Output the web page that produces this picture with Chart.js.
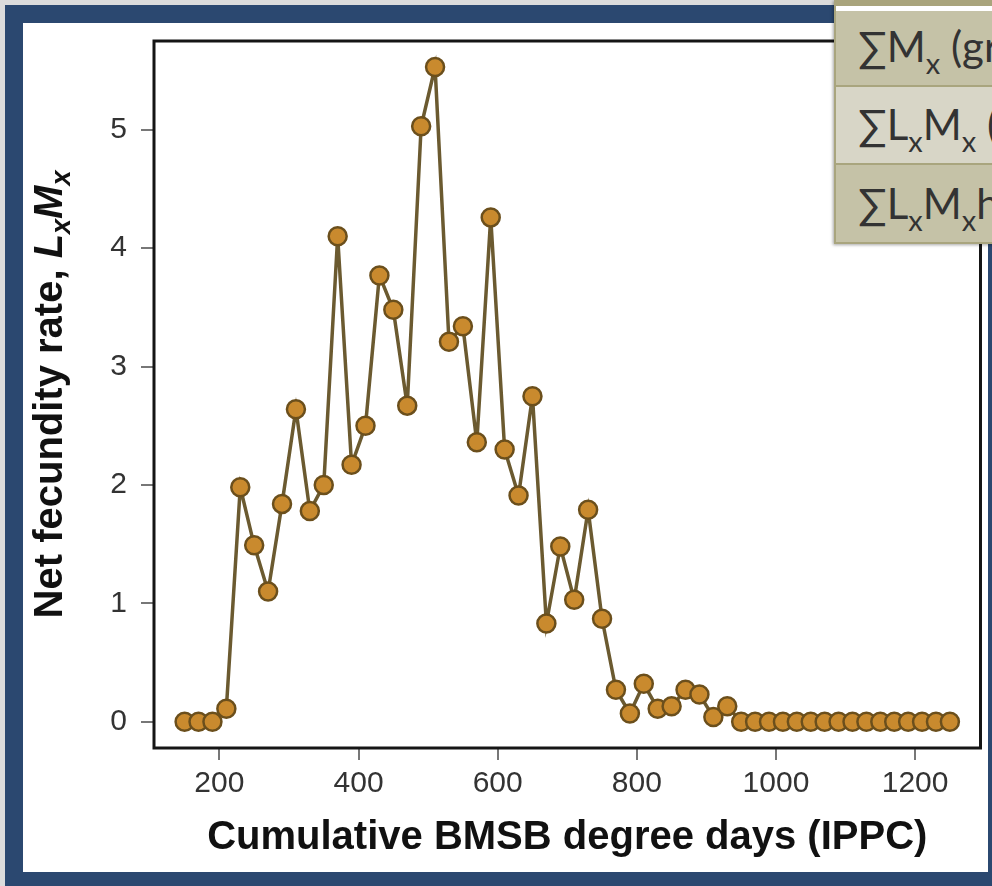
<!DOCTYPE html>
<html>
<head>
<meta charset="utf-8">
<script src="https://cdn.jsdelivr.net/npm/chart.js@4.4.1/dist/chart.umd.min.js"></script>
<style>
  html, body { margin: 0; padding: 0; }
  body { width: 992px; height: 886px; overflow: hidden; position: relative; background: #dcdcdc; }
  #frame { position: absolute; left: 5px; top: 5px; width: 1010px; height: 900px; background: #2b4870; }
  #paper { position: absolute; left: 23px; top: 23px; width: 965px; height: 849px; background: #fff; }
  #plot { position: absolute; left: 0; top: 0; }
  #tbl { position: absolute; left: 834px; top: 0; width: 190px; height: 244px; background: #fff;
         border-left: 2px solid #a9a57e; box-shadow: -1px 1px 3px rgba(0,0,0,0.35); }
  #tbl .band { position: absolute; left: 0; top: 0; width: 100%; height: 6px; background: #a9a47c; }
  #tbl .row { position: absolute; left: 0; width: 100%; background: #c5c2a7;
              border-bottom: 2px solid #a9a57e; font-family: Lato, "Liberation Sans", sans-serif;
              font-size: 42px; color: #333; white-space: nowrap; }
  #tbl .row.light { background: #d8d6c7; }
  #tbl .row span.t { position: absolute; left: 22px; line-height: 42px; }
  #tbl sub { font-size: 29px; vertical-align: -12px; line-height: 0; }
</style>
</head>
<body>
<div id="frame"></div>
<div id="paper"></div>
<canvas id="plot" width="992" height="886"></canvas>
<div id="tbl">
  <div class="band"></div>
  <div class="row" style="top:11px;height:74px"><span class="t" style="top:14px">∑M<sub>x</sub> (gr</span></div>
  <div class="row light" style="top:87px;height:76px"><span class="t" style="top:16px">∑L<sub>x</sub>M<sub>x</sub> (</span></div>
  <div class="row" style="top:165px;height:77px"><span class="t" style="top:17px">∑L<sub>x</sub>M<sub>x</sub>h</span></div>
</div>
<script>
// cumulative BMSB degree days (x) and net fecundity rate LxMx (y)
const degreeDays = [150, 170, 190, 210, 230, 250, 270, 290, 310, 330,
                    350, 370, 390, 410, 430, 450, 470, 490, 510, 530,
                    550, 570, 590, 610, 630, 650, 670, 690, 710, 730,
                    750, 770, 790, 810, 830, 850, 870, 890, 910, 930,
                    950, 970, 990, 1010, 1030, 1050, 1070, 1090, 1110, 1130,
                    1150, 1170, 1190, 1210, 1230, 1250];
const netFecundity = [0, 0, 0, 0.11, 1.98, 1.49, 1.10, 1.84, 2.64, 1.78,
                      2.00, 4.10, 2.17, 2.50, 3.77, 3.48, 2.67, 5.03, 5.53, 3.21,
                      3.34, 2.36, 4.26, 2.30, 1.91, 2.75, 0.83, 1.48, 1.03, 1.79,
                      0.87, 0.27, 0.07, 0.32, 0.11, 0.13, 0.27, 0.23, 0.04, 0.13,
                      0, 0, 0, 0, 0, 0, 0, 0, 0, 0,
                      0, 0, 0, 0, 0, 0];
const xTicks = [200, 400, 600, 800, 1000, 1200];
const yTicks = [0, 1, 2, 3, 4, 5];

const xTitle = 'Cumulative BMSB degree days (IPPC)';
const fontFam = '"Liberation Sans", Arial, sans-serif';

// box around the plot region
const boxPlugin = {
    id: 'box',
    beforeDatasetsDraw(chart) {
        const {ctx, chartArea: a} = chart;
        ctx.save();
        ctx.strokeStyle = '#151515';
        ctx.lineWidth = 3;
        ctx.strokeRect(a.left, a.top, a.right - a.left, a.bottom - a.top);
        ctx.restore();
    }
};

// rotated y title with italic letters and subscripts
const yTitlePlugin = {
    id: 'yTitle',
    afterDraw(chart) {
        const {ctx, chartArea: a} = chart;
        const parts = [
            {t: 'Net fecundity rate, ', f: 'bold 40px ' + fontFam, dy: 0},
            {t: 'L', f: 'italic bold 40px ' + fontFam, dy: 0},
            {t: 'x', f: 'italic bold 27px ' + fontFam, dy: 8},
            {t: 'M', f: 'italic bold 40px ' + fontFam, dy: 0},
            {t: 'x', f: 'italic bold 27px ' + fontFam, dy: 8}
        ];
        ctx.save();
        let total = 0;
        parts.forEach(p => { ctx.font = p.f; p.w = ctx.measureText(p.t).width; total += p.w; });
        ctx.translate(62, (a.top + a.bottom) / 2);
        ctx.rotate(-Math.PI / 2);
        ctx.fillStyle = '#111';
        ctx.textBaseline = 'alphabetic';
        let x = -total / 2;
        parts.forEach(p => { ctx.font = p.f; ctx.fillText(p.t, x, p.dy); x += p.w; });
        ctx.restore();
    }
};

const ctx = document.getElementById('plot').getContext('2d');
const chart = new Chart(ctx, {
    type: 'line',
    data: {
        datasets: [{
            data: degreeDays.map((d, i) => ({x: d, y: netFecundity[i]})),
            borderColor: '#6b5a30',
            borderWidth: 3.5,
            pointRadius: 9,
            pointBackgroundColor: '#c98a2e',
            pointBorderColor: '#6b4f1c',
            pointBorderWidth: 2.5,
            tension: 0
        }]
    },
    options: {
        responsive: false,
        animation: false,
        devicePixelRatio: 1,
        layout: { padding: { top: 41, right: 10, left: 0, bottom: 0 } },
        plugins: { legend: { display: false }, tooltip: { enabled: false } },
        scales: {
            x: {
                type: 'linear',
                min: 106,
                max: 1294,
                afterFit: s => { s.height = 138; },
                afterBuildTicks: s => { s.ticks = xTicks.map(v => ({value: v})); },
                border: { display: false },
                grid: { drawOnChartArea: false, drawTicks: true, tickLength: 12, color: '#777', lineWidth: 2 },
                ticks: { color: '#333', padding: 6, font: { family: fontFam, size: 30 }, callback: v => String(v) },
                title: { display: true, text: xTitle, color: '#111', padding: { top: 0, bottom: 24 },
                         font: { family: fontFam, size: 40, weight: 'bold' } }
            },
            y: {
                min: -0.222,
                max: 5.75,
                afterFit: s => { s.width = 154; },
                afterBuildTicks: s => { s.ticks = yTicks.map(v => ({value: v})); },
                border: { display: false },
                grid: { drawOnChartArea: false, drawTicks: true, tickLength: 13, color: '#777', lineWidth: 2 },
                ticks: { color: '#333', padding: 14, font: { family: fontFam, size: 30 }, callback: v => String(v) }
            }
        }
    },
    plugins: [boxPlugin, yTitlePlugin]
});
</script>
</body>
</html>
